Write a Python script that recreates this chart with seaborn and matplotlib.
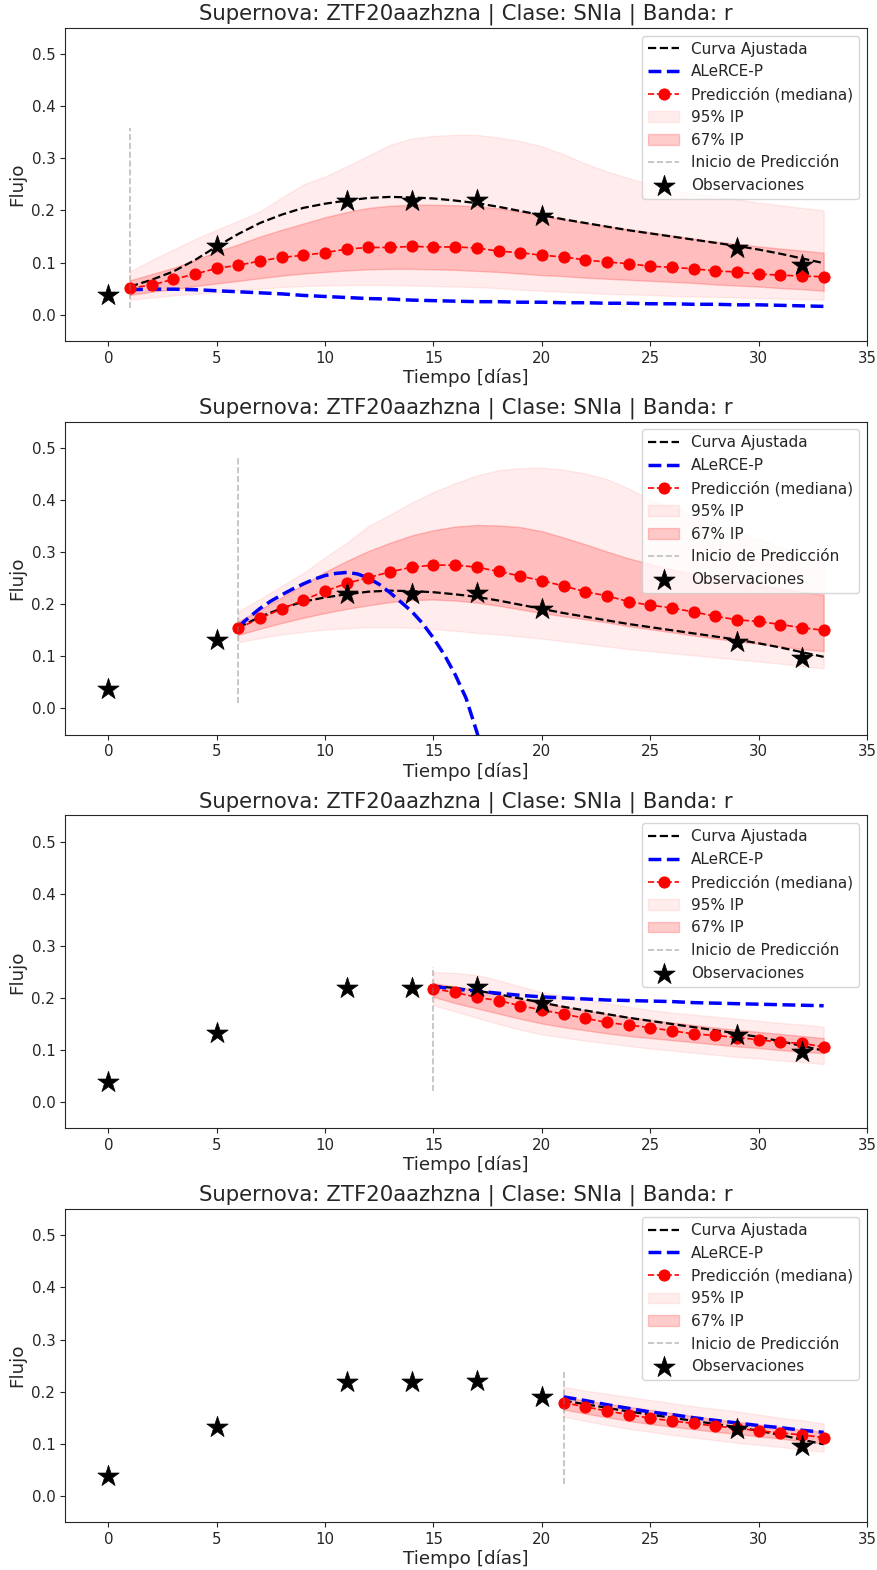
import matplotlib
matplotlib.use("Agg")
import matplotlib.pyplot as plt
import seaborn as sns

# observations (same in every panel)
obs_t = [0, 5, 11, 14, 17, 20, 29, 32]
obs_flux = [0.038, 0.132, 0.219, 0.219, 0.221, 0.190, 0.128, 0.096]

# fitted curve, days 0..33
fit_t = list(range(0, 34))
fit_flux = [0.040, 0.054, 0.067, 0.083, 0.105, 0.131, 0.155, 0.176, 0.192, 0.205,
            0.213, 0.219, 0.224, 0.226, 0.225, 0.223, 0.219, 0.214, 0.207, 0.199,
            0.191, 0.183, 0.176, 0.169, 0.162, 0.156, 0.150, 0.144, 0.138, 0.132,
            0.125, 0.117, 0.108, 0.099]

# prediction start of each panel
starts = [1, 6, 15, 21]
vline_lo = [0.013, 0.011, 0.022, 0.022]
vline_hi = [0.359, 0.485, 0.260, 0.238]

# panel 1 (days 1..33)
pred1 = [0.051, 0.057, 0.068, 0.078, 0.089, 0.095, 0.103, 0.110, 0.114, 0.119,
         0.126, 0.129, 0.129, 0.131, 0.130, 0.130, 0.128, 0.122, 0.119, 0.114,
         0.111, 0.105, 0.101, 0.098, 0.093, 0.091, 0.088, 0.084, 0.082, 0.078,
         0.076, 0.074, 0.073]
hi95_1 = [0.083, 0.105, 0.125, 0.145, 0.163, 0.180, 0.198, 0.225, 0.250, 0.265,
          0.285, 0.305, 0.326, 0.338, 0.343, 0.345, 0.345, 0.340, 0.333, 0.323,
          0.308, 0.290, 0.275, 0.262, 0.250, 0.240, 0.232, 0.227, 0.221, 0.215,
          0.210, 0.205, 0.200]
lo95_1 = [0.029, 0.033, 0.037, 0.040, 0.043, 0.047, 0.050, 0.053, 0.055, 0.056,
          0.057, 0.057, 0.057, 0.056, 0.055, 0.054, 0.053, 0.051, 0.048, 0.046,
          0.044, 0.042, 0.040, 0.039, 0.038, 0.036, 0.035, 0.034, 0.033, 0.032,
          0.031, 0.030, 0.029]
hi67_1 = [0.066, 0.078, 0.090, 0.105, 0.121, 0.135, 0.150, 0.163, 0.175, 0.187,
          0.197, 0.205, 0.209, 0.211, 0.211, 0.210, 0.208, 0.204, 0.198, 0.190,
          0.183, 0.176, 0.170, 0.164, 0.158, 0.152, 0.146, 0.140, 0.136, 0.131,
          0.127, 0.123, 0.119]
lo67_1 = [0.038, 0.044, 0.049, 0.055, 0.060, 0.065, 0.070, 0.075, 0.079, 0.082,
          0.085, 0.087, 0.088, 0.088, 0.087, 0.086, 0.084, 0.082, 0.079, 0.076,
          0.074, 0.071, 0.069, 0.067, 0.065, 0.063, 0.061, 0.058, 0.056, 0.054,
          0.051, 0.049, 0.046]
alerce1_t = list(range(1, 34))
alerce1 = [0.048, 0.049, 0.049, 0.048, 0.046, 0.044, 0.042, 0.040, 0.037, 0.035,
           0.033, 0.031, 0.030, 0.028, 0.027, 0.026, 0.025, 0.025, 0.024, 0.024,
           0.023, 0.023, 0.022, 0.022, 0.021, 0.021, 0.020, 0.020, 0.019, 0.019,
           0.018, 0.017, 0.016]

# panel 2 (days 6..33)
pred2 = [0.154, 0.173, 0.191, 0.208, 0.225, 0.240, 0.251, 0.262, 0.271, 0.275,
         0.275, 0.271, 0.263, 0.254, 0.245, 0.235, 0.224, 0.216, 0.205, 0.198,
         0.193, 0.185, 0.177, 0.170, 0.167, 0.161, 0.155, 0.150]
hi95_2 = [0.186, 0.210, 0.235, 0.260, 0.290, 0.318, 0.350, 0.372, 0.395, 0.415,
          0.432, 0.447, 0.457, 0.461, 0.462, 0.458, 0.451, 0.440, 0.422, 0.400,
          0.385, 0.370, 0.355, 0.340, 0.325, 0.310, 0.298, 0.285]
lo95_2 = [0.127, 0.135, 0.142, 0.147, 0.151, 0.154, 0.156, 0.156, 0.155, 0.152,
          0.149, 0.145, 0.142, 0.138, 0.134, 0.129, 0.124, 0.119, 0.114, 0.110,
          0.106, 0.102, 0.098, 0.094, 0.090, 0.086, 0.081, 0.077]
hi67_2 = [0.167, 0.190, 0.213, 0.238, 0.262, 0.283, 0.302, 0.318, 0.332, 0.342,
          0.349, 0.352, 0.351, 0.348, 0.340, 0.328, 0.315, 0.301, 0.288, 0.277,
          0.267, 0.258, 0.250, 0.243, 0.237, 0.230, 0.224, 0.218]
lo67_2 = [0.141, 0.153, 0.164, 0.174, 0.183, 0.191, 0.198, 0.204, 0.208, 0.209,
          0.207, 0.203, 0.197, 0.190, 0.183, 0.177, 0.171, 0.165, 0.158, 0.152,
          0.146, 0.140, 0.134, 0.129, 0.124, 0.119, 0.114, 0.110]
alerce2_t = [6, 6.5, 7, 7.5, 8, 8.5, 9, 9.5, 10, 10.5, 11, 11.5, 12, 12.5, 13,
             13.5, 14, 14.5, 15, 15.5, 16, 16.5, 17, 17.5]
alerce2 = [0.157, 0.175, 0.192, 0.206, 0.218, 0.229, 0.239, 0.248, 0.255, 0.259,
           0.261, 0.258, 0.250, 0.238, 0.222, 0.204, 0.186, 0.163, 0.135, 0.103,
           0.065, 0.020, -0.045, -0.120]

# panel 3 (days 15..33)
pred3 = [0.217, 0.211, 0.201, 0.195, 0.185, 0.177, 0.169, 0.161, 0.153, 0.148,
         0.143, 0.137, 0.131, 0.128, 0.124, 0.120, 0.115, 0.113, 0.106]
hi95_3 = [0.250, 0.248, 0.244, 0.234, 0.222, 0.211, 0.204, 0.198, 0.190, 0.183,
          0.177, 0.172, 0.168, 0.164, 0.160, 0.156, 0.152, 0.149, 0.145]
lo95_3 = [0.186, 0.174, 0.162, 0.150, 0.139, 0.130, 0.124, 0.118, 0.113, 0.108,
          0.103, 0.099, 0.095, 0.091, 0.087, 0.084, 0.080, 0.077, 0.073]
hi67_3 = [0.228, 0.222, 0.215, 0.207, 0.198, 0.190, 0.183, 0.176, 0.169, 0.163,
          0.158, 0.153, 0.148, 0.143, 0.139, 0.135, 0.131, 0.127, 0.123]
lo67_3 = [0.202, 0.190, 0.180, 0.170, 0.160, 0.151, 0.144, 0.138, 0.132, 0.127,
          0.123, 0.119, 0.115, 0.111, 0.107, 0.104, 0.100, 0.097, 0.094]
alerce3_t = list(range(15, 34))
alerce3 = [0.222, 0.217, 0.213, 0.209, 0.205, 0.202, 0.200, 0.198, 0.196, 0.195,
           0.194, 0.193, 0.191, 0.190, 0.189, 0.188, 0.187, 0.186, 0.185]

# panel 4 (days 21..33)
pred4 = [0.179, 0.171, 0.163, 0.156, 0.149, 0.144, 0.139, 0.134, 0.130, 0.125,
         0.121, 0.117, 0.112]
hi95_4 = [0.209, 0.202, 0.196, 0.190, 0.184, 0.178, 0.172, 0.167, 0.162, 0.156,
          0.150, 0.145, 0.139]
lo95_4 = [0.152, 0.144, 0.136, 0.129, 0.123, 0.117, 0.112, 0.107, 0.102, 0.098,
          0.094, 0.089, 0.085]
hi67_4 = [0.190, 0.183, 0.177, 0.171, 0.165, 0.159, 0.153, 0.147, 0.142, 0.137,
          0.132, 0.127, 0.123]
lo67_4 = [0.166, 0.158, 0.151, 0.144, 0.138, 0.133, 0.128, 0.123, 0.119, 0.114,
          0.110, 0.105, 0.101]
alerce4_t = list(range(21, 34))
alerce4 = [0.190, 0.183, 0.175, 0.168, 0.161, 0.156, 0.150, 0.145, 0.140, 0.135,
           0.131, 0.126, 0.122]

panels = [
    (pred1, hi95_1, lo95_1, hi67_1, lo67_1, alerce1_t, alerce1),
    (pred2, hi95_2, lo95_2, hi67_2, lo67_2, alerce2_t, alerce2),
    (pred3, hi95_3, lo95_3, hi67_3, lo67_3, alerce3_t, alerce3),
    (pred4, hi95_4, lo95_4, hi67_4, lo67_4, alerce4_t, alerce4),
]

sns.set_style("ticks")
plt.rcParams['font.family'] = ['DejaVu Sans']

fig, axes = plt.subplots(4, 1, figsize=(8.77, 15.7), dpi=100)
fig.subplots_adjust(left=0.0741, right=0.9886, top=1 - 28 / 1570,
                    bottom=1 - 1522 / 1570, hspace=0.2588)

for ax, start, vlo, vhi, (pred, hi95, lo95, hi67, lo67, a_t, alerce) in zip(
        axes, starts, vline_lo, vline_hi, panels):
    days = list(range(start, 34))

    sns.lineplot(x=fit_t[start:], y=fit_flux[start:], color='black',
                 linestyle='--', linewidth=1.6, label='Curva Ajustada', ax=ax)
    sns.lineplot(x=a_t, y=alerce, color='blue', linestyle='--',
                 linewidth=2.5, label='ALeRCE-P', ax=ax)
    sns.lineplot(x=days, y=pred, color='red', linestyle='--', linewidth=1.2,
                 marker='o', markersize=8, markeredgecolor='red',
                 label='Predicción (mediana)', ax=ax)
    ax.fill_between(days, lo95, hi95, color='red', alpha=0.07, label='95% IP')
    ax.fill_between(days, lo67, hi67, color='red', alpha=0.2, label='67% IP')
    ax.vlines(start, vlo, vhi, colors='gray', linestyles='--', alpha=0.5,
              linewidth=1.2, label='Inicio de Predicción')
    sns.scatterplot(x=obs_t, y=obs_flux, marker='*', s=260, color='black',
                    edgecolor='black', linewidth=0.5, zorder=4,
                    label='Observaciones', ax=ax)

    ax.set_xlim(-2, 35)
    ax.set_ylim(-0.05, 0.55)
    ax.set_title('Supernova: ZTF20aazhzna | Clase: SNIa | Banda: r', fontsize=15.3)
    ax.set_xlabel('Tiempo [días]', fontsize=13.2, labelpad=2)
    ax.set_ylabel('Flujo', fontsize=13.2)
    ax.tick_params(labelsize=10.8)
    ax.legend(loc='upper right', fontsize=11)

fig.savefig('out.png', dpi=100)
